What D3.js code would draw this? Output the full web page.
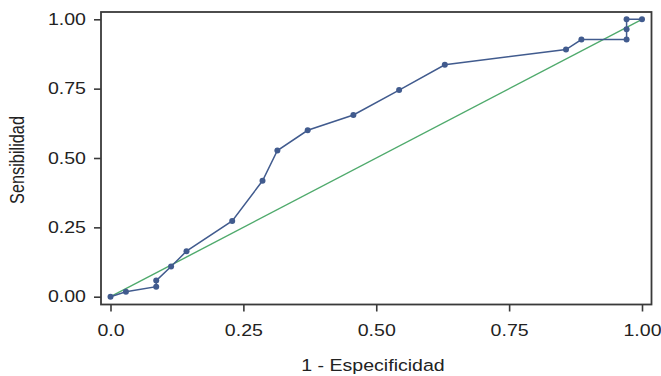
<!DOCTYPE html>
<html>
<head>
<meta charset="utf-8">
<script src="https://cdn.jsdelivr.net/npm/d3@7"></script>
<style>
  html, body { margin: 0; padding: 0; background: #fff; }
  svg { display: block; }
  text { font-family: "Liberation Sans", Arial, Helvetica, sans-serif; fill: #222; }
</style>
</head>
<body>
<svg id="chart" width="661" height="376"></svg>
<script>
// ROC curve points (1 - especificidad, sensibilidad)
const fpr = [0, 0.029, 0.086, 0.086, 0.114, 0.143, 0.229, 0.286, 0.314, 0.371, 0.457, 0.543, 0.629, 0.857, 0.886, 0.971, 0.971, 0.971, 1.0];
const tpr = [0, 0.018, 0.036, 0.058, 0.109, 0.164, 0.273, 0.418, 0.527, 0.600, 0.655, 0.745, 0.836, 0.891, 0.927, 0.927, 0.964, 1.0, 1.0];
// reference diagonal
const diagX = [0, 1];
const diagY = [0, 1];
const xTicks = [0, 0.25, 0.5, 0.75, 1];
const xTickLabels = ["0.0", "0.25", "0.50", "0.75", "1.00"];
const yTicks = [0, 0.25, 0.5, 0.75, 1];
const yTickLabels = ["0.00", "0.25", "0.50", "0.75", "1.00"];
const xTitle = "1 - Especificidad";
const yTitle = "Sensibilidad";

const STRETCH = 1.2;      // horizontal stretch of the original typography
const FONT = 16.3;
const blue = "#415b8e";
const green = "#4faa6c";

const svg = d3.select("#chart");
const frame = { left: 101, right: 651.5, top: 12, bottom: 304.5 };
const x = d3.scaleLinear().domain([0, 1]).range([110.5, 642]);
const y = d3.scaleLinear().domain([0, 1]).range([296.7, 19.3]);

// frame
svg.append("rect")
  .attr("x", frame.left).attr("y", frame.top)
  .attr("width", frame.right - frame.left).attr("height", frame.bottom - frame.top)
  .attr("fill", "none").attr("stroke", "#3a3a3a").attr("stroke-width", 1.8);

// axes
const xAxis = d3.axisBottom(x).tickValues(xTicks)
  .tickFormat((d, i) => xTickLabels[i]).tickSize(7).tickPadding(13);
const gx = svg.append("g").attr("transform", `translate(0,${frame.bottom})`).call(xAxis);
const yAxis = d3.axisLeft(y).tickValues(yTicks)
  .tickFormat((d, i) => yTickLabels[i]).tickSize(7).tickPadding(8);
const gy = svg.append("g").attr("transform", `translate(${frame.left},0)`).call(yAxis);

[gx, gy].forEach(g => {
  g.select(".domain").remove();
  g.selectAll(".tick line").attr("stroke", "#3a3a3a").attr("stroke-width", 1.6);
  g.selectAll(".tick text").attr("font-size", FONT)
    .style("font-family", '"Liberation Sans", Arial, sans-serif').attr("fill", "#222");
});
gx.selectAll(".tick text").attr("transform", `scale(${STRETCH},1)`);
gy.selectAll(".tick text").each(function () {
  const t = d3.select(this);
  const tx = +t.attr("x");
  t.attr("x", 0).attr("transform", `translate(${tx},0) scale(${STRETCH},1)`);
});

// diagonal line
svg.append("path")
  .datum(diagX.map((d, i) => [d, diagY[i]]))
  .attr("fill", "none").attr("stroke", green).attr("stroke-width", 1.4)
  .attr("d", d3.line().x(d => x(d[0])).y(d => y(d[1])));

// ROC line
const pts = fpr.map((d, i) => [d, tpr[i]]);
svg.append("path")
  .datum(pts)
  .attr("fill", "none").attr("stroke", blue).attr("stroke-width", 1.5)
  .attr("d", d3.line().x(d => x(d[0])).y(d => y(d[1])));

svg.append("g").selectAll("circle").data(pts).join("circle")
  .attr("cx", d => x(d[0])).attr("cy", d => y(d[1]))
  .attr("r", 3).attr("fill", blue);

// axis titles
svg.append("text")
  .attr("transform", `translate(373,370.5) scale(${STRETCH},1)`)
  .attr("text-anchor", "middle").attr("font-size", FONT)
  .text(xTitle);

svg.append("text")
  .attr("transform", `translate(24,160) scale(${STRETCH},1) rotate(-90)`)
  .attr("text-anchor", "middle").attr("font-size", FONT)
  .text(yTitle);
</script>
</body>
</html>
